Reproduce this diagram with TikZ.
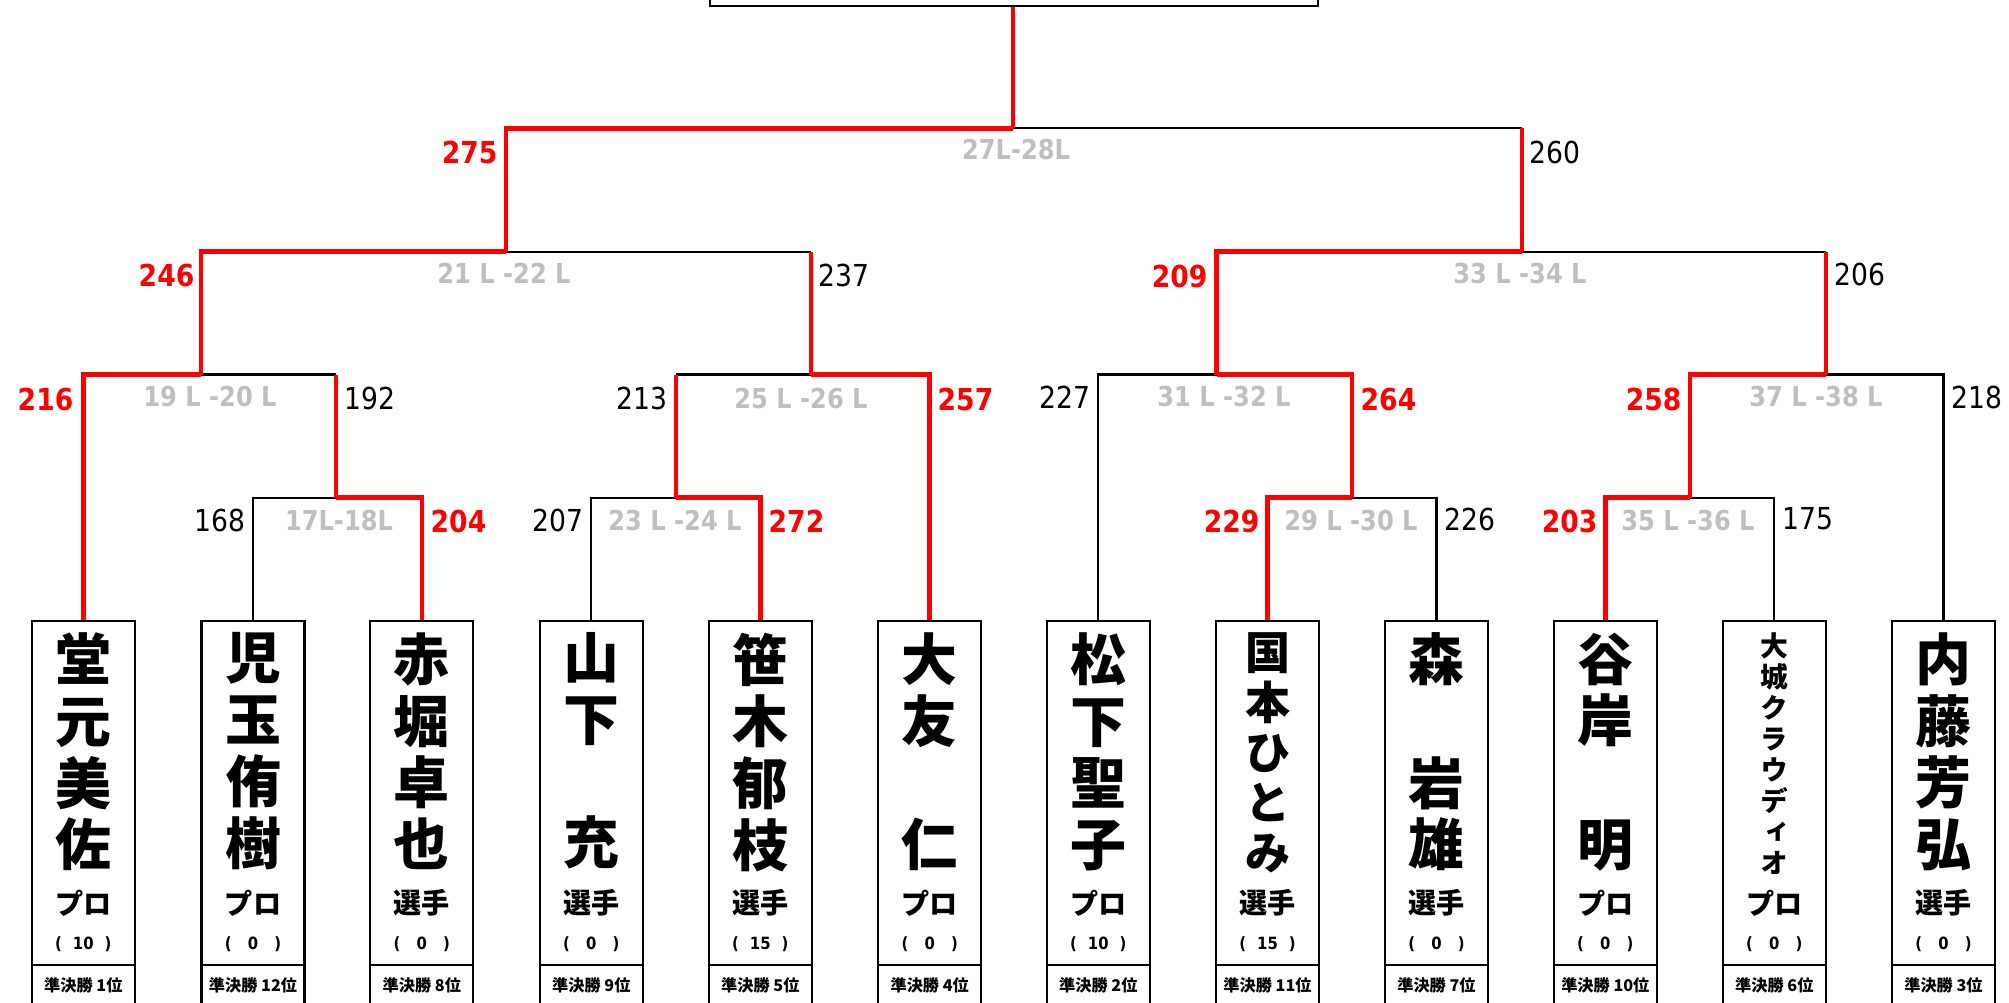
\documentclass[tikz,border=0pt]{standalone}
\usepackage{fontspec}
\usetikzlibrary{positioning}
\newfontfamily\jp{Noto Sans CJK JP}
\newfontfamily\jpv{Noto Sans CJK JP}[RawFeature=+vert]
\newfontfamily\numfont[FakeStretch=0.88]{DejaVu Sans}
\definecolor{lgrey}{HTML}{BFBFBF}

\tikzset{
  box/.style={draw, line width=0.6pt, minimum width=1.03cm, inner sep=0pt},
  player/.style={box, minimum height=3.443cm},
  rank/.style={box, minimum height=0.4cm, font=\jp\bfseries\fontsize{4.6pt}{5pt}\selectfont},
  namebig/.style={anchor=north, inner sep=0pt, align=center, font=\jp\bfseries\fontsize{15.9pt}{17.55pt}\selectfont},
  namemid/.style={anchor=north, inner sep=0pt, align=center, font=\jp\bfseries\fontsize{12.8pt}{14.2pt}\selectfont},
  namesmall/.style={anchor=north, inner sep=0pt, align=center, font=\jpv\bfseries\fontsize{7.9pt}{8.8pt}\selectfont},
  aff/.style={inner sep=0pt, font=\jp\bfseries\fontsize{8pt}{9pt}\selectfont},
  pts/.style={inner sep=0pt, font=\numfont\bfseries\fontsize{4.8pt}{5pt}\selectfont},
  sc/.style={inner sep=0pt, font=\numfont\fontsize{8.6pt}{10pt}\selectfont},
  wsc/.style={inner sep=0pt, text=red, font=\numfont\bfseries\fontsize{8.6pt}{10pt}\selectfont},
  match/.style={inner sep=0pt, text=lgrey, font=\numfont\bfseries\fontsize{7.8pt}{9pt}\selectfont},
  win/.style={draw=red, line width=1.3pt},
  lose/.style={draw=black, line width=0.6pt}
}

\begin{document}
\begin{tikzpicture}[x=0.01cm, y=-0.01cm]
\useasboundingbox (0,0) rectangle (2009,1002);
\clip (0,0) rectangle (2009,1002);

\node[box, minimum width=6.08cm, minimum height=0.6cm] (final) at (1014,-24.3) {};

% players
\foreach \i/\x/\nm/\nf/\af/\pp/\rk in {
  1/83.3/{堂\\元\\美\\佐}/namebig/プロ/10/1,
  2/253/{児\\玉\\侑\\樹}/namebig/プロ/0/12,
  3/421.8/{赤\\堀\\卓\\也}/namebig/選手/0/8,
  4/591.3/{山\\下\\\phantom{山}\\充}/namebig/選手/0/9,
  5/760.3/{笹\\木\\郁\\枝}/namebig/選手/15/5,
  6/929.7/{大\\友\\\phantom{大}\\仁}/namebig/プロ/0/4,
  7/1098.3/{松\\下\\聖\\子}/namebig/プロ/10/2,
  8/1267.5/{国\\本\\ひ\\と\\み}/namemid/選手/15/11,
  9/1436.5/{森\\\phantom{森}\\岩\\雄}/namebig/選手/0/7,
  10/1605.3/{谷\\岸\\\phantom{谷}\\明}/namebig/プロ/0/10,
  11/1774.3/{大\\城\\ク\\ラ\\ウ\\デ\\ィ\\オ}/namesmall/プロ/0/6,
  12/1943.5/{内\\藤\\芳\\弘}/namebig/選手/0/3}
{
  \node[player] (p\i) at (\x,792.85) {};
  \node[\nf] (n\i) at (\x,632) {\nm};
  \node[aff] (a\i) at (\x,903) {\af};
  \node[pts] (t\i) at (\x,944) {\makebox[16pt]{(\hfill\pp\hfill)}};
  \node[rank, below=-0.6pt of p\i] (r\i) {準決勝 \rk{}位};
}

% match joins
\coordinate (m17) at (336,497.7);
\coordinate (m23) at (676,497.7);
\coordinate (m29) at (1352,497.7);
\coordinate (m35) at (1690,497.7);
\coordinate (m19) at (201,374.5);
\coordinate (m25) at (811,374.5);
\coordinate (m31) at (1216.5,374.5);
\coordinate (m37) at (1826,374.5);
\coordinate (m21) at (506,251.7);
\coordinate (m33) at (1522,251.7);
\coordinate (m27) at (1013,128.3);

% losing sides
\draw[lose] (p2.north) |- (m17);
\draw[lose] (p4.north) |- (m23);
\draw[lose] (p9.north) |- (m29);
\draw[lose] (p11.north) |- (m35);
\draw[lose] (m17 |- m19) -- (m19);
\draw[lose] (m23 |- m25) -- (m25);
\draw[lose] (p7.north) |- (m31);
\draw[lose] (p12.north) |- (m37);
\draw[lose] (m25 |- m21) -- (m21);
\draw[lose] (m37 |- m33) -- (m33);
\draw[lose] (m33 |- m27) -- (m27);

% winning sides
\draw[win] (p3.north) |- (m17);
\draw[win] (p5.north) |- (m23);
\draw[win] (p8.north) |- (m29);
\draw[win] (p10.north) |- (m35);
\draw[win] (p1.north) |- (m19);
\draw[win] (m17) -- (m17 |- m19);
\draw[win] (m23) -- (m23 |- m25);
\draw[win] (p6.north) |- (m25);
\draw[win] (m29) |- (m31);
\draw[win] (m35) |- (m37);
\draw[win] (m19) |- (m21);
\draw[win] (m25) -- (m25 |- m21);
\draw[win] (m31) |- (m33);
\draw[win] (m37) -- (m37 |- m33);
\draw[win] (m21) |- (m27);
\draw[win] (m33) -- (m33 |- m27);
\draw[win] (m27) -- (m27 |- final.south);

% match names
\node[match] (g27) at (1016,150) {27L-28L};
\node[match] (g21) at (504,273) {21 L -22 L};
\node[match] (g33) at (1520,273) {33 L -34 L};
\node[match] (g19) at (210,397) {19 L -20 L};
\node[match] (g25) at (801,398) {25 L -26 L};
\node[match] (g31) at (1224,397) {31 L -32 L};
\node[match] (g37) at (1816,397) {37 L -38 L};
\node[match] (g17) at (339,520) {17L-18L};
\node[match] (g23) at (675,520) {23 L -24 L};
\node[match] (g29) at (1351,520) {29 L -30 L};
\node[match] (g35) at (1688,520) {35 L -36 L};

% scores
\node[wsc, anchor=east] (s275) at (498,152) {275};
\node[sc, anchor=west] (s260) at (1529,152) {260};
\node[wsc, anchor=east] (s246) at (195,275) {246};
\node[sc, anchor=west] (s237) at (818,275) {237};
\node[wsc, anchor=east] (s209) at (1208,276) {209};
\node[sc, anchor=west] (s206) at (1834,274) {206};
\node[wsc, anchor=east] (s216) at (74,399) {216};
\node[sc, anchor=west] (s192) at (344,398) {192};
\node[sc, anchor=east] (s213) at (668,398) {213};
\node[wsc, anchor=west] (s257) at (937,399) {257};
\node[sc, anchor=east] (s227) at (1091,397) {227};
\node[wsc, anchor=west] (s264) at (1360,399) {264};
\node[wsc, anchor=east] (s258) at (1682,399) {258};
\node[sc, anchor=west] (s218) at (1951,397) {218};
\node[sc, anchor=east] (s168) at (246,520) {168};
\node[wsc, anchor=west] (s204) at (430,521) {204};
\node[sc, anchor=east] (s207) at (584,520) {207};
\node[wsc, anchor=west] (s272) at (768,521) {272};
\node[wsc, anchor=east] (s229) at (1260,521) {229};
\node[sc, anchor=west] (s226) at (1444,519) {226};
\node[wsc, anchor=east] (s203) at (1598,521) {203};
\node[sc, anchor=west] (s175) at (1782,519) {175};
\end{tikzpicture}
\end{document}
